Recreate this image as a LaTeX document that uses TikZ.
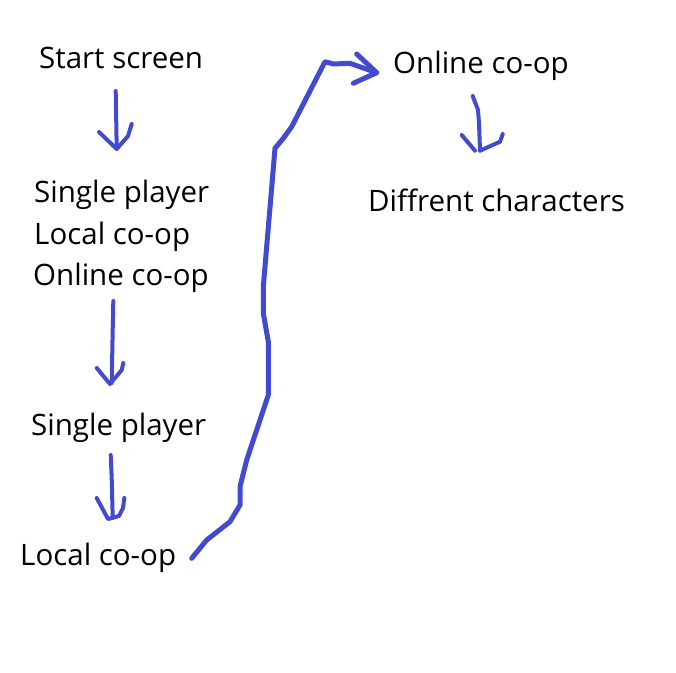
\documentclass[tikz,border=0pt]{standalone}
\usepackage{fontspec}
\setmainfont{Open Sans}
\definecolor{ink}{RGB}{65,74,208}
\begin{document}
\begin{tikzpicture}[x=1pt,y=-1pt,
  lbl/.style={anchor=base west,inner sep=0pt,font=\fontsize{29.5}{34}\selectfont},
  pen/.style={draw=ink,line width=4pt,line cap=round,line join=round},
  bigpen/.style={draw=ink,line width=5pt,line cap=round,line join=round}]
\useasboundingbox[fill=white] (0,0) rectangle (676,672);
\node[lbl] (start) at (39,68.5) {Start screen};
\node[lbl] (sp1) at (34,202) {Single player};
\node[lbl] (lc1) at (34,244) {Local co-op};
\node[lbl] (oc1) at (33,285.5) {Online co-op};
\node[lbl] (sp2) at (31,435) {Single player};
\node[lbl] (lc2) at (20,565) {Local co-op};
\node[lbl] (oc2) at (393,73.5) {Online co-op};
\node[lbl] (dc) at (368,211.5) {Diffrent characters};
% arrow 1
\draw[pen] (115.7,91) -- (116.7,148);
\draw[pen] (99,132) -- (116.7,149) -- (128,136) -- (131.7,124);
% arrow 2
\draw[pen] (113.3,301) -- (112.5,340) -- (111.7,383);
\draw[pen] (96.7,368) -- (110,384) -- (121.7,370) -- (123.3,363);
% arrow 3
\draw[pen] (110.7,455) -- (111.7,478) -- (112.7,518);
\draw[pen] (96.7,498) -- (108,519) -- (119,516) -- (123,508) -- (124.3,498);
% arrow 4
\draw[pen] (472.7,96) -- (478,110) -- (479,123) -- (480,150);
\draw[pen] (461.7,135) -- (475,150.7);
\draw[pen] (480,150.7) -- (500,141.7) -- (502.7,134);
% big connector
\coordinate (bstart) at (191.7,558.3);
\coordinate (btip) at (376.7,72.7);
\draw[bigpen] (bstart) -- (206.7,540) -- (230,521.7) -- (240,505) -- (240,486.7)
  -- (246.7,460) -- (268.3,395) -- (268.3,341.7) -- (263.3,313.3) -- (263.3,286.7)
  -- (275,148.3) -- (283.3,138.3) -- (291.7,126.7) -- (325,61.7) -- (333.3,64)
  -- (350,63.3) -- (btip);
\draw[bigpen] (356.7,54) -- (btip) -- (353.3,83.3);
\end{tikzpicture}
\end{document}
